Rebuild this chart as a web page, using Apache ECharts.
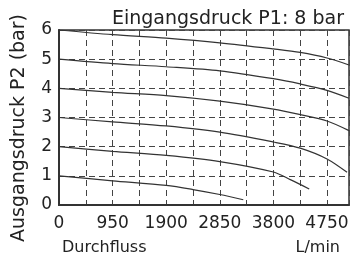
<!DOCTYPE html>
<html>
<head>
<meta charset="utf-8">
<script src="https://cdn.jsdelivr.net/npm/echarts@6/dist/echarts.min.js"></script>
<style>
    html, body { margin: 0; padding: 0; background: #fff; }
    #main { width: 355px; height: 260px; }
</style>
</head>
<body>
<div id="main"></div>
<script>
// flow (L/min) and output pressure P2 (bar), one pair of arrays per curve
var flow6 = [0, 950, 1900, 2850, 3800, 4275, 4750, 5140];
var p6    = [6.0, 5.84, 5.72, 5.56, 5.35, 5.23, 5.04, 4.80];

var flow5 = [0, 950, 1900, 2850, 3800, 4275, 4750, 5140];
var p5    = [5.0, 4.85, 4.74, 4.60, 4.33, 4.15, 3.93, 3.66];

var flow4 = [0, 950, 1900, 2850, 3800, 4275, 4750, 5140];
var p4    = [4.0, 3.86, 3.75, 3.56, 3.29, 3.10, 2.88, 2.55];

var flow3 = [0, 950, 1900, 2850, 3800, 4275, 4750, 5106];
var p3    = [3.0, 2.85, 2.71, 2.50, 2.16, 1.95, 1.58, 1.12];

var flow2 = [0, 950, 1900, 2850, 3800, 4109, 4435];
var p2    = [2.0, 1.84, 1.70, 1.49, 1.13, 0.86, 0.55];

var flow1 = [0, 950, 1900, 2375, 2850, 3266];
var p1    = [1.0, 0.83, 0.67, 0.53, 0.36, 0.18];

var xLabelStep = 950;   // labels shown every 950, grid every 475
var xGridStep = 475;
var xMax = 5140;
var yMax = 6;

var titleText = 'Eingangsdruck P1: 8 bar';
var yName = 'Ausgangsdruck P2 (bar)';
var xName = 'Durchfluss';
var xUnit = 'L/min';

var font = 'DejaVu Sans';
var ink = '#222';

function pairs(xs, ys) {
    var out = [];
    for (var i = 0; i < xs.length; i++) {
        out.push([xs[i], ys[i]]);
    }
    return out;
}

function curve(xs, ys) {
    return {
        type: 'line',
        data: pairs(xs, ys),
        smooth: 0.3,
        showSymbol: false,
        silent: true,
        lineStyle: { color: '#333', width: 1.2 }
    };
}

var myChart = echarts.init(document.getElementById('main'), null, { renderer: 'canvas' });

var option = {
    backgroundColor: '#fff',
    animation: false,
    title: {
        text: titleText,
        right: 6,
        top: 5,
        textStyle: { fontFamily: font, fontSize: 19, fontWeight: 'normal', color: ink }
    },
    grid: {
        left: 59,
        right: 6,
        top: 30,
        bottom: 55,
        show: true,
        borderColor: '#333',
        borderWidth: 1.5
    },
    xAxis: {
        type: 'value',
        min: 0,
        max: xMax,
        interval: xGridStep,
        axisLine: { lineStyle: { color: '#333', width: 2 } },
        axisTick: { show: false },
        splitLine: { lineStyle: { color: '#444', type: [6, 4], width: 1 } },
        axisLabel: {
            margin: 10,
            fontFamily: font,
            fontSize: 17,
            color: ink,
            formatter: function (v) {
                return (v % xLabelStep === 0) ? String(v) : '';
            }
        }
    },
    yAxis: {
        type: 'value',
        min: 0,
        max: yMax,
        interval: 1,
        axisLine: { show: true, lineStyle: { color: '#333', width: 2 } },
        axisTick: { show: false },
        splitLine: { lineStyle: { color: '#444', type: [6, 4], width: 1 } },
        axisLabel: { margin: 7, fontFamily: font, fontSize: 17, color: ink }
    },
    graphic: [
        {
            type: 'text', x: 19, y: 128, rotation: Math.PI / 2,
            style: { text: yName, align: 'center', verticalAlign: 'middle', fontFamily: font, fontSize: 19, fill: ink }
        },
        {
            type: 'text', x: 62, y: 248,
            style: { text: xName, align: 'left', verticalAlign: 'middle', fontFamily: font, fontSize: 16, fill: ink }
        },
        {
            type: 'text', x: 340, y: 248,
            style: { text: xUnit, align: 'right', verticalAlign: 'middle', fontFamily: font, fontSize: 16, fill: ink }
        }
    ],
    series: [
        curve(flow6, p6),
        curve(flow5, p5),
        curve(flow4, p4),
        curve(flow3, p3),
        curve(flow2, p2),
        curve(flow1, p1)
    ]
};

myChart.setOption(option);
</script>
</body>
</html>
